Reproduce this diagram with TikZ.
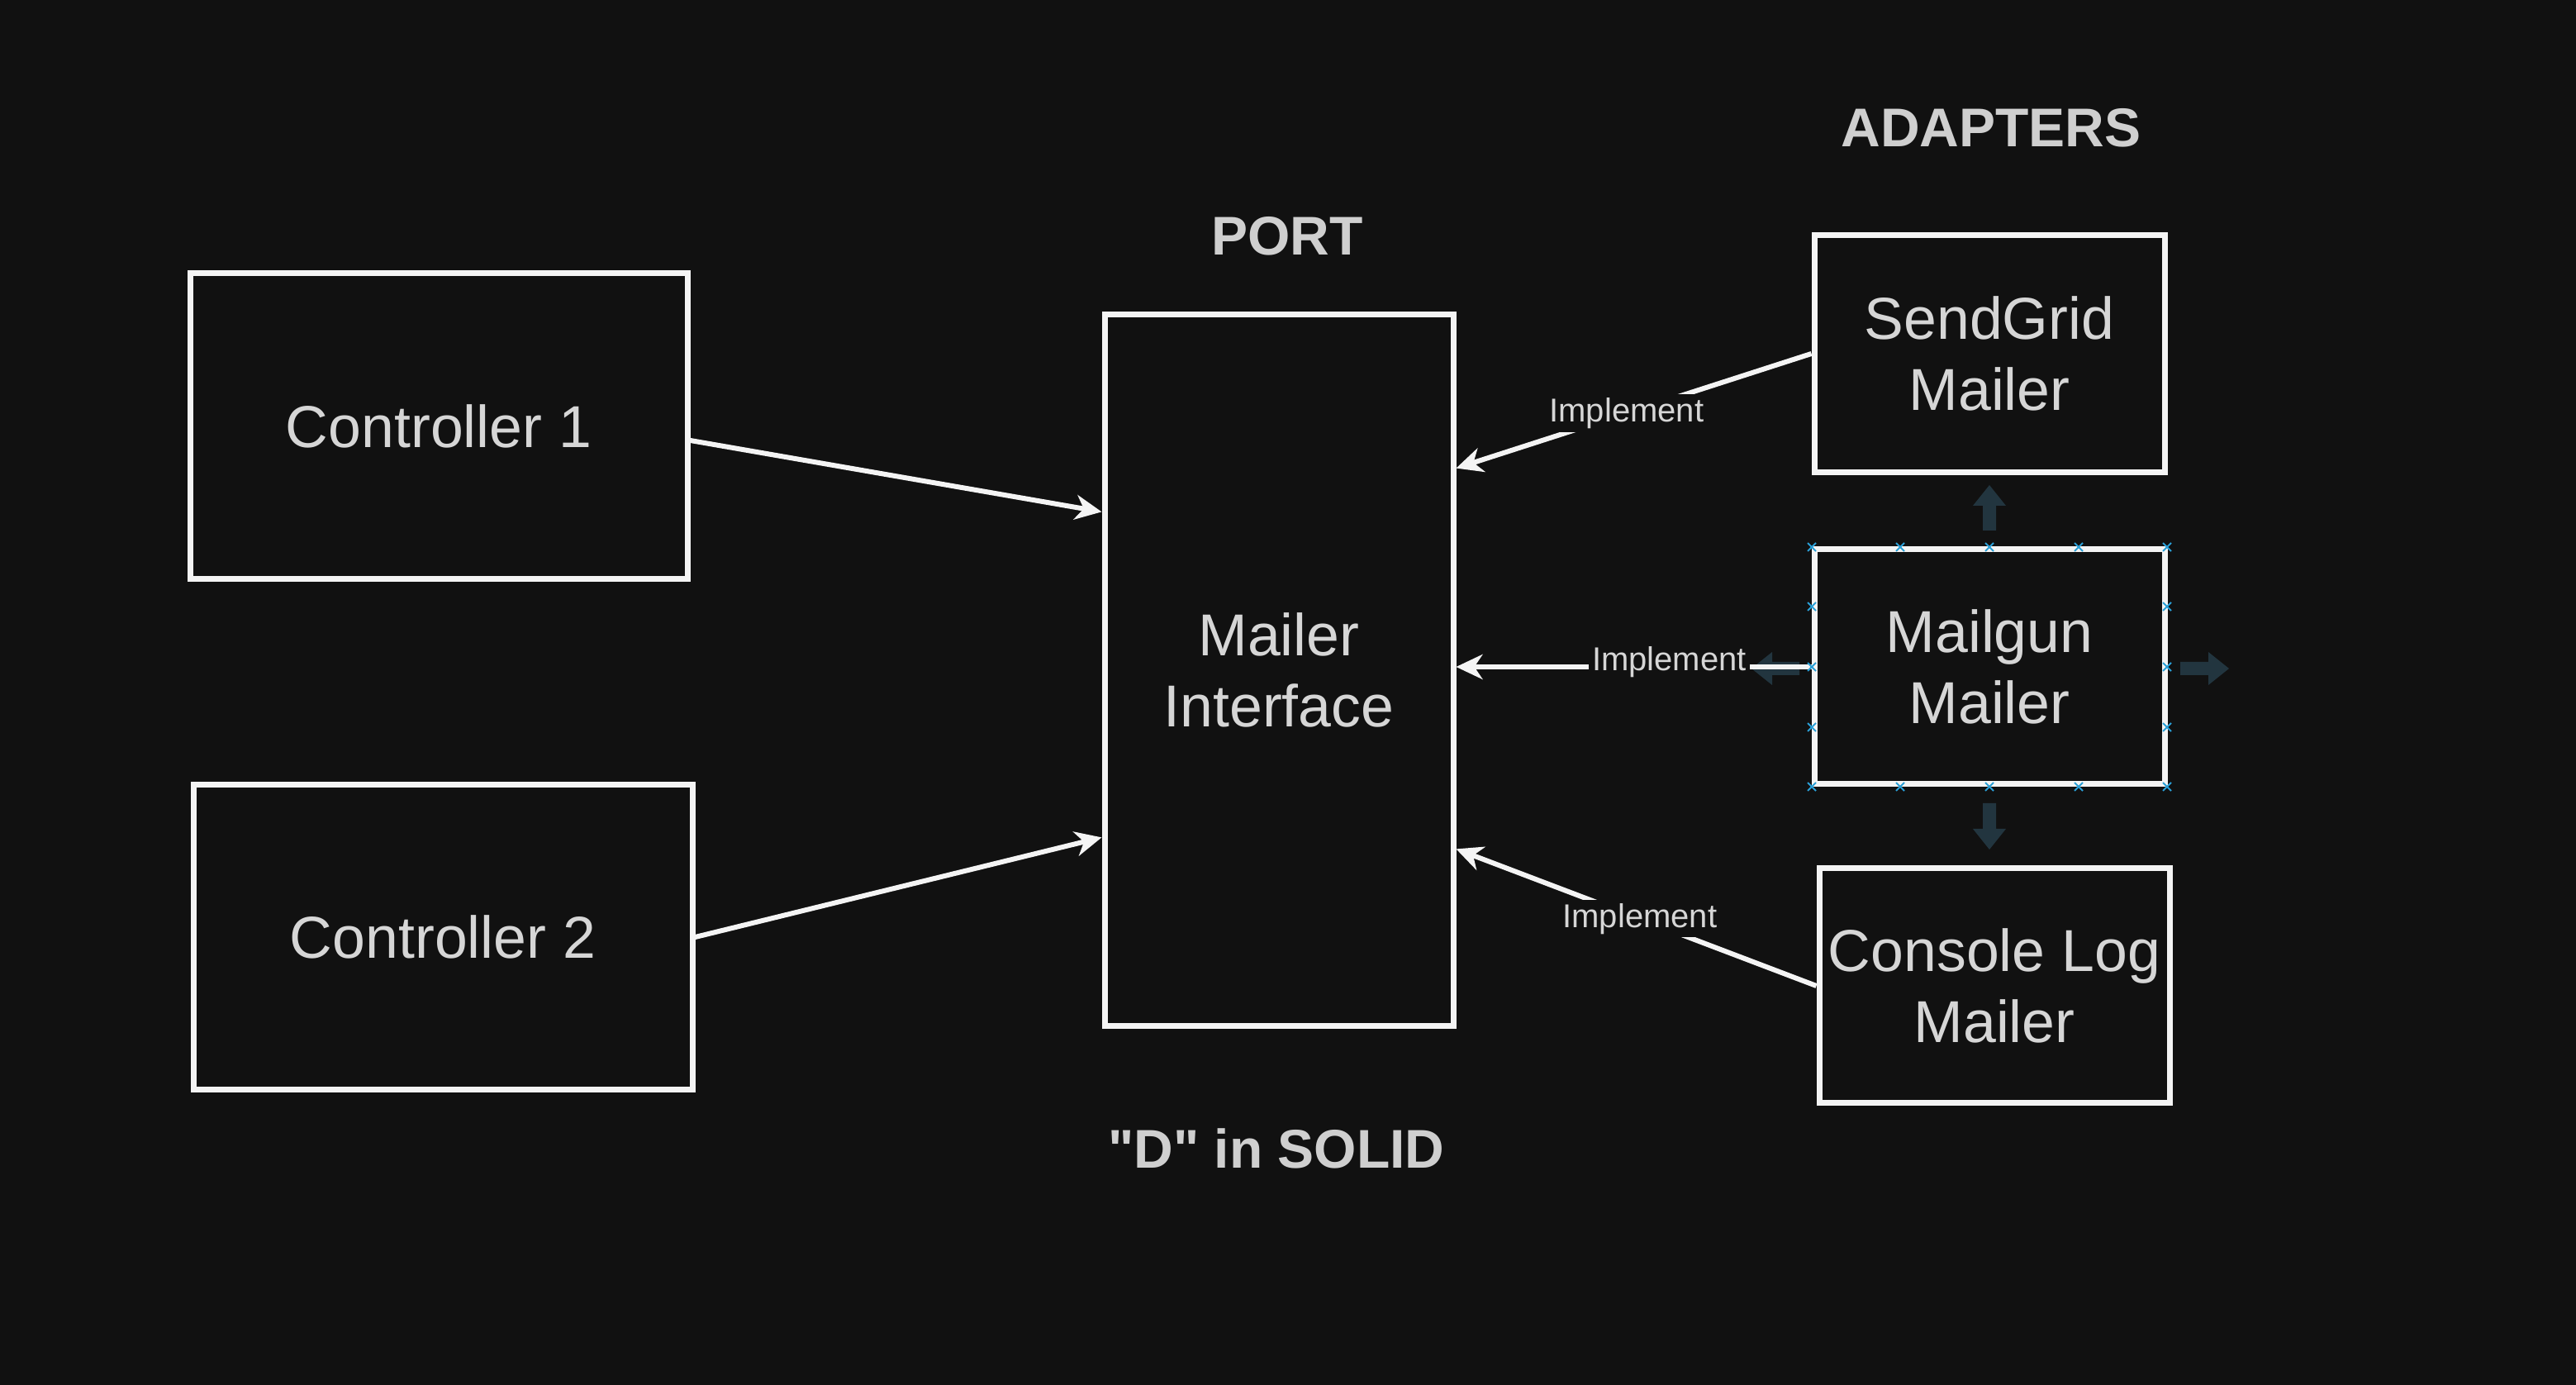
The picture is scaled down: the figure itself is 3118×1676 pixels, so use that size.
\documentclass[tikz,border=0pt]{standalone}
\usepackage{fontspec}
\setmainfont{Liberation Sans}
\newfontfamily\hdrfont{Liberation Sans}
\usetikzlibrary{arrows.meta,calc}
\definecolor{bgc}{HTML}{111111}
\definecolor{linec}{HTML}{F4F4F4}
\definecolor{txtc}{HTML}{D6D6D6}
\definecolor{hdrc}{HTML}{CFCFCF}
\definecolor{hovc}{HTML}{22353F}
\definecolor{markc}{HTML}{2A9FD6}
\tikzset{
  box/.style={draw=linec, line width=1.75pt, fill=bgc, text=txtc, align=center,
    font=\fontsize{17.9}{21.5}\selectfont, inner sep=0pt},
  hdr/.style={text=hdrc, font=\hdrfont\bfseries\fontsize{16.5}{19.8}\selectfont, inner sep=0pt},
  conn/.style={draw=linec, line width=1.5pt, -{Stealth[length=8pt,width=7.5pt,inset=2.5pt]}},
  lbl/.style={fill=bgc, text=txtc, font=\fontsize{10}{12}\selectfont, inner sep=1pt},
  hover/.style={fill=hovc},
  xmark/.style={draw=markc, line width=0.5pt}
}
\begin{document}
\begin{tikzpicture}[x=0.25pt,y=-0.25pt]
\fill[bgc] (0,0) rectangle (3118,1676);
\useasboundingbox (0,0) rectangle (3118,1676);

% hover arrows (behind)
\fill[hover] (2400,642) -- (2400,612) -- (2388,612) -- (2408,587) -- (2428,612) -- (2416,612) -- (2416,642) -- cycle;
\fill[hover] (2400,972) -- (2400,1003) -- (2388,1003) -- (2408,1028) -- (2428,1003) -- (2416,1003) -- (2416,972) -- cycle;
\fill[hover] (2639,801) -- (2673,801) -- (2673,789) -- (2698,809) -- (2673,829) -- (2673,817) -- (2639,817) -- cycle;
\fill[hover] (2178,801) -- (2145,801) -- (2145,789) -- (2120,809) -- (2145,829) -- (2145,817) -- (2178,817) -- cycle;

% boxes
\node[box, minimum width=150.5pt, minimum height=92.5pt] (c1) at (531,516) {Controller 1};
\node[box, minimum width=151pt, minimum height=92.25pt] (c2) at (536,1134) {Controller 2};
\node[box, minimum width=105.5pt, minimum height=215.25pt] (mi) at (1548,811) {Mailer\\Interface};
\node[box, minimum width=106pt, minimum height=71.75pt] (sg) at (2408,428) {SendGrid\\Mailer};
\node[box, minimum width=106pt, minimum height=71pt] (mg) at (2408,807) {Mailgun\\Mailer};
\node[box, minimum width=106pt, minimum height=71pt] (cl) at (2414,1193) {Console Log\\Mailer};

% headers
\node[hdr] (port) at (1558,286) {PORT};
\node[hdr] (adapters) at (2410,155) {ADAPTERS};
\node[hdr] (solid) at (1545,1390) {"D" in SOLID};

% connectors
\draw[conn] ([yshift=-4.25pt]c1.east) -- ([yshift=47.9pt]mi.west);
\draw[conn] (c2.east) -- ([yshift=-50.6pt]mi.west);
\draw[conn] (sg.west) -- node[lbl, pos=0.52] (l1) {Implement} ([yshift=61.1pt]mi.east);
\draw[conn] (mg.west) -- node[lbl, pos=0.40, yshift=1.5pt] (l2) {Implement} (mg.west -| mi.east);
\draw[conn] (cl.west) -- node[lbl, pos=0.49] (l3) {Implement} ([yshift=-54.1pt]mi.east);

% connection-point marks on Mailgun box
\foreach \px/\py in {2193/662,2300/662,2408/662,2516/662,2623/662,
                     2193/952,2300/952,2408/952,2516/952,2623/952,
                     2193/734,2193/807,2193/880,2623/734,2623/807,2623/880}{
  \draw[xmark] (\px-5,\py-5) -- (\px+5,\py+5) (\px-5,\py+5) -- (\px+5,\py-5);
}
\end{tikzpicture}
\end{document}
